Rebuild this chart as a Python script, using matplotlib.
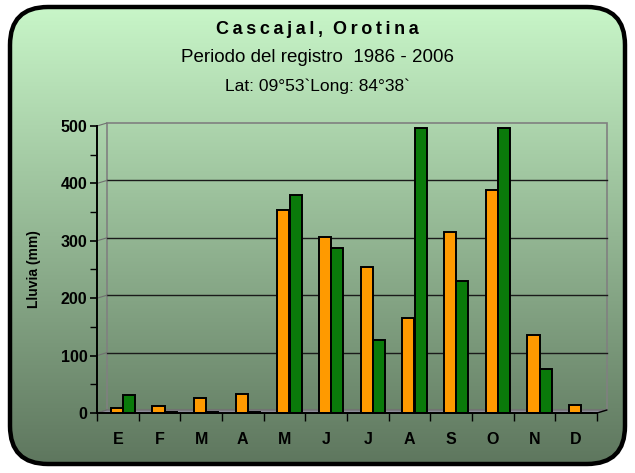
import numpy as np
import matplotlib
matplotlib.use("Agg")
import matplotlib.pyplot as plt
from matplotlib.patches import FancyBboxPatch, Rectangle, Polygon, ConnectionPatch
from matplotlib.transforms import ScaledTranslation, IdentityTransform

months = ["E", "F", "M", "A", "M", "J", "J", "A", "S", "O", "N", "D"]
serie_a = [8, 12, 26, 33, 353, 306, 254, 166, 315, 388, 136, 14]   # naranja
serie_b = [32, 2, 2, 2, 380, 288, 127, 497, 230, 497, 77, 0]       # verde
yticks = [0, 100, 200, 300, 400, 500]

plt.rcParams['font.family'] = ['Liberation Sans', 'DejaVu Sans']

W, H = 635, 473
fig = plt.figure(figsize=(W / 100, H / 100), dpi=100)
fig.patch.set_facecolor("white")

# ---- fondo con degradado y borde redondeado ----
bg = fig.add_axes([0, 0, 1, 1], zorder=-10)
bg.set_xlim(0, W)
bg.set_ylim(H, 0)
bg.axis("off")
grad = np.linspace(0, 1, 256)[:, None]
top = np.array([202, 248, 202]) / 255
bot = np.array([92, 116, 92]) / 255
img = top[None, None, :] * (1 - grad[..., None]) + bot[None, None, :] * grad[..., None]
im = bg.imshow(img, extent=[0, W, H, 0], aspect="auto")
box = FancyBboxPatch((10, 7), 615, 457, boxstyle="round,pad=0,rounding_size=38",
                     facecolor="none", edgecolor="black", linewidth=3.2)
bg.add_patch(box)
im.set_clip_path(box)

# ---- titulos ----
titulo = "\u2009".join("Cascajal,") + "  " + "\u2009".join("Orotina")
fig.text(0.5, 1 - 30 / H, titulo, ha="center", va="center",
         fontsize=13, fontweight="bold")
fig.text(0.5, 1 - 57 / H, "Periodo del registro  1986 - 2006", ha="center", va="center",
         fontsize=13.5)
fig.text(0.5, 1 - 86 / H, "Lat: 09°53`Long: 84°38`", ha="center", va="center",
         fontsize=12.5)

# ---- grafico ----
ax = fig.add_axes([97 / W, 1 - 413 / H, 500 / W, 287 / H])
ax.patch.set_visible(False)
ax.set_xlim(-0.5, 11.5)
ax.set_ylim(0, 500)

back = ax.transData + ScaledTranslation(10 / 100, 3 / 100, fig.dpi_scale_trans)

# pared del fondo
wall = Rectangle((-0.5, 0), 12, 500, transform=back, facecolor="none",
                 edgecolor="#808080", linewidth=1.2, zorder=1, clip_on=False)
ax.add_patch(wall)
for v in yticks[1:-1]:
    ax.plot([-0.5, 11.5], [v, v], transform=back, color="#1a1a1a", lw=1, zorder=1, clip_on=False)
for v in yticks:
    cp = ConnectionPatch((-0.5, v), (-0.5, v), coordsA=ax.transData, coordsB=back,
                         color="#707070", lw=0.8, zorder=1)
    ax.add_artist(cp)

# piso
front = ax.transData.transform([(-0.5, 0), (11.5, 0)])
rear = back.transform([(11.5, 0), (-0.5, 0)])
floor = Polygon(np.vstack([front, rear]), closed=True, transform=IdentityTransform(),
                facecolor="#8c8c98", edgecolor="#6a6a6a", lw=0.8, zorder=2, clip_on=False)
ax.add_patch(floor)
cp = ConnectionPatch((11.5, 0), (11.5, 0), coordsA=ax.transData, coordsB=back,
                     color="black", lw=1, zorder=2)
ax.add_artist(cp)

# barras
x = np.arange(len(months))
w = 0.29
off = 0.12
ax.bar(x + off - w / 2, serie_a, width=w, color="#FF9A00", edgecolor="black",
       linewidth=1.4, zorder=3, clip_on=False)
ax.bar(x + off + w / 2, serie_b, width=w, color="#0A7A0A", edgecolor="black",
       linewidth=1.4, zorder=3, clip_on=False)

# ejes
for s in ["top", "right"]:
    ax.spines[s].set_visible(False)
ax.spines["left"].set_linewidth(1.4)
ax.spines["bottom"].set_linewidth(1.4)
ax.spines["left"].set_zorder(4)
ax.spines["bottom"].set_zorder(4)

ax.set_yticks(yticks)
ax.set_yticklabels([str(v) for v in yticks], fontsize=11.5, fontweight="bold")
ax.set_yticks(np.arange(50, 500, 100), minor=True)
ax.tick_params(axis="y", which="major", length=5, width=1.2, direction="out", pad=2)
ax.tick_params(axis="y", which="minor", length=5, width=1.0, direction="out")

ax.set_xticks(x)
ax.set_xticklabels(months, fontsize=11.5, fontweight="bold")
ax.set_xticks(np.arange(-0.5, 12, 1), minor=True)
ax.tick_params(axis="x", which="major", length=0, pad=14)
ax.tick_params(axis="x", which="minor", length=6, width=1.0, direction="out")

ax.set_ylabel("Lluvia (mm)", fontsize=10, fontweight="bold", labelpad=14)

fig.savefig("out.png", dpi=100)
